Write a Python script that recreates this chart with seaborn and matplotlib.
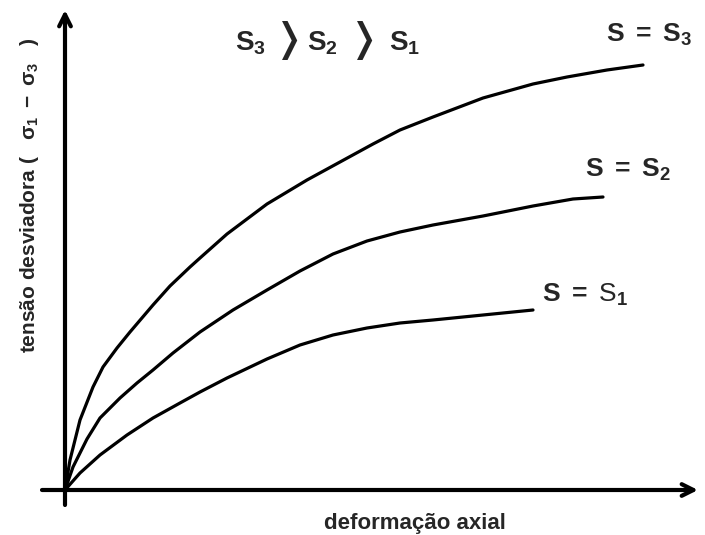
import matplotlib
matplotlib.use("Agg")
import matplotlib.pyplot as plt
import numpy as np
import pandas as pd
import seaborn as sns

# Curve data (deformação axial, tensão desviadora) in arbitrary units
s3_x = [0, 5, 15, 28, 38, 52, 65, 88, 105, 125, 135, 162, 202, 242, 275, 308, 335, 368, 418, 468, 502, 542, 578]
s3_y = [0, 30, 70, 103, 123, 142, 158, 185, 204, 223, 232, 256, 286, 310, 328, 346, 360, 373, 392, 406, 413, 420, 425]
s2_x = [0, 8, 22, 35, 55, 72, 88, 108, 135, 168, 202, 235, 268, 302, 335, 368, 418, 468, 508, 538]
s2_y = [0, 23, 51, 72, 92, 107, 120, 137, 158, 180, 200, 219, 236, 249, 258, 265, 274, 284, 291, 293]
s1_x = [0, 15, 35, 62, 88, 115, 135, 162, 202, 235, 268, 302, 335, 368, 418, 468]
s1_y = [0, 17, 35, 55, 72, 87, 98, 112, 131, 145, 155, 162, 167, 170, 175, 180]

series = ["S3", "S2", "S1"]
labels = [r"$\mathbf{S\ =\ S_3}$", r"$\mathbf{S\ =\ S_2}$", r"$\mathbf{S\ =\ }\mathrm{S}_\mathbf{1}$"]
order_labels = [r"$\mathbf{S_3}$", r"$\mathbf{S_2}$", r"$\mathbf{S_1}$"]

df = pd.concat([
    pd.DataFrame({"x": s3_x, "y": s3_y, "s": "S3"}),
    pd.DataFrame({"x": s2_x, "y": s2_y, "s": "S2"}),
    pd.DataFrame({"x": s1_x, "y": s1_y, "s": "S1"}),
])

sns.set_theme(style="white")
plt.rcParams['font.family'] = ['Liberation Sans', 'DejaVu Sans']
plt.rcParams['mathtext.fontset'] = 'custom'
plt.rcParams['mathtext.rm'] = 'Liberation Sans'
plt.rcParams['mathtext.bf'] = 'Liberation Sans:bold'
plt.rcParams['mathtext.it'] = 'Liberation Sans:italic'

fig = plt.figure(figsize=(7.05, 5.35), dpi=100)
ax = fig.add_axes([0, 0, 1, 1])
ax.set_xlim(-65, 640)
ax.set_ylim(-45, 490)
ax.axis("off")

for s in series:
    sub = df[df["s"] == s]
    sns.lineplot(data=sub, x="x", y="y", ax=ax, color="black", lw=2.3,
                 sort=False, estimator=None)
for line in ax.lines:
    line.set_solid_joinstyle("round")
    line.set_solid_capstyle("round")

# axes with arrows
ax.annotate("", xy=(0, 480), xytext=(0, -15),
            arrowprops=dict(arrowstyle="->,head_length=0.7,head_width=0.35",
                            lw=3, color="black", shrinkA=0, shrinkB=0))
ax.annotate("", xy=(633, 0), xytext=(-23, 0),
            arrowprops=dict(arrowstyle="->,head_length=0.7,head_width=0.35",
                            lw=3, color="black", shrinkA=0, shrinkB=0))

# curve labels
ax.text(584, 455, labels[0], fontsize=19, ha="center", va="center")
ax.text(563, 320, labels[1], fontsize=19, ha="center", va="center")
ax.text(520, 195, labels[2], fontsize=19, ha="center", va="center")

# ordering text: S3 > S2 > S1
for xx, lab in zip([185, 257, 340], order_labels):
    ax.text(xx, 447, lab, fontsize=20, ha="center", va="center")
for xx in [224, 299]:
    ax.text(xx, 450, "\u276d", family="DejaVu Sans",
            fontsize=28, ha="center", va="center")

# axis labels
ax.text(350, -33, "deformação axial", fontsize=16, fontweight="bold",
        ha="center", va="center")
ax.text(-35, 295, r"tensão desviadora (   $\mathbf{\sigma_1\ -\ \sigma_3}$   )", fontsize=15,
        fontweight="bold", rotation=90, ha="center", va="center")

fig.savefig("out.png", dpi=100)
